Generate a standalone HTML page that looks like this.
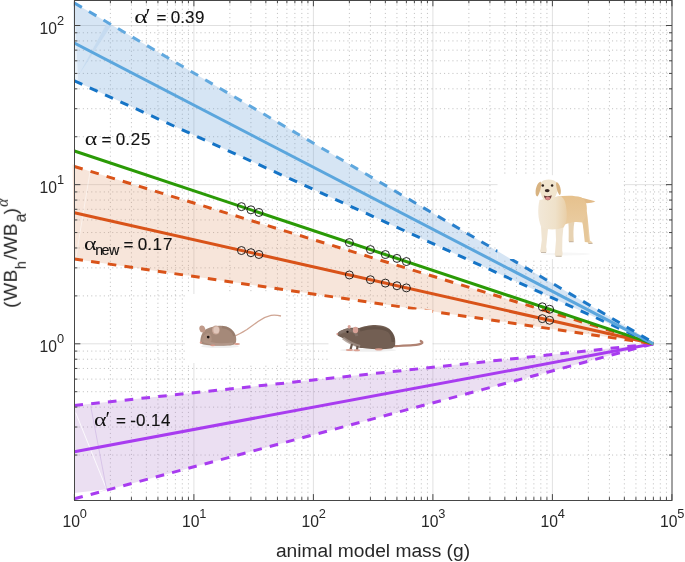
<!DOCTYPE html>
<html><head><meta charset="utf-8"><style>
html,body{margin:0;padding:0;background:#fff;width:685px;height:562px;overflow:hidden}
svg{display:block}

svg{font-family:"Liberation Sans",sans-serif}
</style></head><body>
<svg width="685" height="562" viewBox="0 0 685 562">
<defs>
<clipPath id="ax"><rect x="74.40" y="0.30" width="597.60" height="499.80"/></clipPath>
<linearGradient id="ubg" gradientUnits="userSpaceOnUse" x1="74" y1="0" x2="654" y2="0">
<stop offset="0" stop-color="#4f9ddb"/><stop offset="0.08" stop-color="#62a9df"/><stop offset="0.5" stop-color="#5fa8de"/><stop offset="0.64" stop-color="#2a80cc"/><stop offset="1" stop-color="#1574c6"/>
</linearGradient>
</defs>
<rect width="685" height="562" fill="#fff"/>

<path d="M110.37 0.30V500.10 M131.42 0.30V500.10 M146.35 0.30V500.10 M157.93 0.30V500.10 M167.39 0.30V500.10 M175.39 0.30V500.10 M182.32 0.30V500.10 M188.43 0.30V500.10 M229.87 0.30V500.10 M250.92 0.30V500.10 M265.85 0.30V500.10 M277.43 0.30V500.10 M286.89 0.30V500.10 M294.89 0.30V500.10 M301.82 0.30V500.10 M307.93 0.30V500.10 M349.37 0.30V500.10 M370.42 0.30V500.10 M385.35 0.30V500.10 M396.93 0.30V500.10 M406.39 0.30V500.10 M414.39 0.30V500.10 M421.32 0.30V500.10 M427.43 0.30V500.10 M468.87 0.30V500.10 M489.92 0.30V500.10 M504.85 0.30V500.10 M516.43 0.30V500.10 M525.89 0.30V500.10 M533.89 0.30V500.10 M540.82 0.30V500.10 M546.93 0.30V500.10 M588.37 0.30V500.10 M609.42 0.30V500.10 M624.35 0.30V500.10 M635.93 0.30V500.10 M645.39 0.30V500.10 M653.39 0.30V500.10 M660.32 0.30V500.10 M666.43 0.30V500.10" stroke="#000" stroke-opacity="0.24" stroke-width="1" stroke-dasharray="1.1 3.1" fill="none"/>
<path d="M74.40 455.04H672.00 M74.40 427.02H672.00 M74.40 407.13H672.00 M74.40 391.71H672.00 M74.40 379.11H672.00 M74.40 368.45H672.00 M74.40 359.22H672.00 M74.40 351.08H672.00 M74.40 295.89H672.00 M74.40 267.87H672.00 M74.40 247.98H672.00 M74.40 232.56H672.00 M74.40 219.96H672.00 M74.40 209.30H672.00 M74.40 200.07H672.00 M74.40 191.93H672.00 M74.40 136.74H672.00 M74.40 108.72H672.00 M74.40 88.83H672.00 M74.40 73.41H672.00 M74.40 60.81H672.00 M74.40 50.15H672.00 M74.40 40.92H672.00 M74.40 32.78H672.00" stroke="#000" stroke-opacity="0.24" stroke-width="1" stroke-dasharray="1.1 3.1" fill="none"/>
<path d="M193.90 0.30V500.10 M313.40 0.30V500.10 M432.90 0.30V500.10 M552.40 0.30V500.10 M74.40 343.80H672.00 M74.40 184.65H672.00 M74.40 25.50H672.00" stroke="#000" stroke-opacity="0.12" stroke-width="1" fill="none"/>
<g clip-path="url(#ax)">
<polygon points="74.40,3.00 653.39,342.60 653.39,343.80 74.40,80.86" fill="rgb(91,151,211)" fill-opacity="0.25"/>
<polygon points="74.40,166.45 653.39,343.80 74.40,258.98" fill="rgb(223,151,107)" fill-opacity="0.25"/>
<polygon points="74.40,405.49 653.39,343.80 74.40,498.79" fill="rgb(175,127,203)" fill-opacity="0.25"/>
</g>
<polygon points="73.4,2.5 74.6,2.5 74.6,80 73.9,80" fill="#d6e5f4"/>
<polygon points="72.6,164.5 74.6,164.5 74.6,258 74,258" fill="#f7e5da"/>
<polygon points="74.6,8 74.6,82 78.2,80" fill="#fff" fill-opacity="0.45"/>
<polygon points="78.9,74.8 107.3,22.3 111.6,24.9" fill="#c6dbf0"/>
<polygon points="74.5,493 106.6,489.3 74.5,501" fill="#fff"/>
<path d="M75.7 412.7 L106.6 489.3" stroke="#fff" stroke-width="0.9" stroke-opacity="0.9"/>
<path d="M90.7 406.2 L106.6 489.3" stroke="#d2bde6" stroke-width="0.8"/>
<path d="M90.5 168.8 L75.9 257.8" stroke="#fff" stroke-width="0.8" stroke-opacity="0.6"/>
<g clip-path="url(#ax)">
<line x1="74.40" y1="405.49" x2="653.39" y2="343.80" stroke="#a83cf0" stroke-width="3.0" stroke-dasharray="8.65 8.2"/>
<line x1="74.40" y1="498.79" x2="653.39" y2="343.80" stroke="#a83cf0" stroke-width="3.0" stroke-dasharray="8.65 8.2"/>
<line x1="74.40" y1="451.75" x2="653.39" y2="343.80" stroke="#a83cf0" stroke-width="3.0"/>
<line x1="74.40" y1="166.45" x2="653.39" y2="343.80" stroke="#d95319" stroke-width="3.0" stroke-dasharray="8.65 8.2"/>
<line x1="74.40" y1="258.98" x2="653.39" y2="343.80" stroke="#d95319" stroke-width="3.0" stroke-dasharray="8.65 8.2"/>
<line x1="74.40" y1="212.71" x2="653.39" y2="343.80" stroke="#d95319" stroke-width="3.0"/>
<line x1="74.40" y1="151.03" x2="653.39" y2="343.80" stroke="#2a9a06" stroke-width="3.0"/>
<line x1="74.40" y1="80.86" x2="653.39" y2="343.80" stroke="#1574c6" stroke-width="3.0" stroke-dasharray="8.65 8.2"/>
<line x1="74.40" y1="43.07" x2="653.39" y2="343.80" stroke="#5ba6dd" stroke-width="3.0"/>
<line x1="74.40" y1="3.00" x2="653.39" y2="342.60" stroke="url(#ubg)" stroke-width="3.0" stroke-dasharray="8.65 8.2"/>
</g>
<g fill="none" stroke="#111" stroke-width="0.9"><circle cx="241.45" cy="206.65" r="4"/><circle cx="241.45" cy="250.54" r="4"/><circle cx="250.92" cy="209.80" r="4"/><circle cx="250.92" cy="252.68" r="4"/><circle cx="258.92" cy="212.46" r="4"/><circle cx="258.92" cy="254.49" r="4"/><circle cx="349.37" cy="242.58" r="4"/><circle cx="349.37" cy="274.97" r="4"/><circle cx="370.42" cy="249.58" r="4"/><circle cx="370.42" cy="279.73" r="4"/><circle cx="385.35" cy="254.56" r="4"/><circle cx="385.35" cy="283.11" r="4"/><circle cx="396.93" cy="258.41" r="4"/><circle cx="396.93" cy="285.74" r="4"/><circle cx="406.39" cy="261.56" r="4"/><circle cx="406.39" cy="287.88" r="4"/><circle cx="542.29" cy="306.81" r="4"/><circle cx="542.29" cy="318.65" r="4"/><circle cx="549.63" cy="309.25" r="4"/><circle cx="549.63" cy="320.31" r="4"/></g>

<rect x="185" y="294" width="101" height="69" fill="#fff"/>
<ellipse cx="220" cy="346.3" rx="19" ry="1.8" fill="#efefef"/>
<path d="M235.5 335.8 C240 333.5 244 331.5 247 329.5 C251 326.5 254 324.5 258 321.5 C262 318.5 266 316.3 271 315.3 C275 314.8 278 315.2 281 316" stroke="#cfa593" stroke-width="1.3" fill="none"/>
<path d="M200.3 342.8 C200.2 339.5 200.8 336 202.5 333 C203.5 331 205 329.5 207 328.8 C210 327.3 213.5 326.3 217 325.9 C220.5 325.5 223.5 325.6 226.5 326.4 C230.5 327.6 233.5 330.5 235.3 334.5 C236.5 337.5 236.6 341 235.5 343.5 C234 345 231 345.5 228 345.6 C222 346 215 346 209 345.3 C206 345 203.5 344.6 202 344 C201 343.6 200.4 343.3 200.3 342.8Z" fill="#a58979"/>
<path d="M204 341 C209 343.5 220 345 233 343.5" stroke="#c0a69a" stroke-width="2" fill="none" opacity="0.5"/>
<path d="M222 327 C228 327.5 233 331 234.5 336" stroke="#8a6e60" stroke-width="2.5" fill="none" opacity="0.45"/>
<path d="M201.5 341 C202 337 204.5 334 208 333 C211 333.5 212 337 211.5 341 C210 344 205 344.5 201.5 341Z" fill="#b29585" opacity="0.8"/>
<ellipse cx="202.3" cy="329" rx="2.9" ry="3.6" transform="rotate(-15 202.3 329)" fill="#c09a8a"/>
<ellipse cx="215.9" cy="330" rx="3.9" ry="4.5" fill="#c9a797"/>
<ellipse cx="216.3" cy="330" rx="2.9" ry="3.6" fill="#e0c6ba"/>
<circle cx="208.2" cy="337.1" r="1.35" fill="#1b1210"/>
<circle cx="200.8" cy="342.6" r="1.1" fill="#db9a8c"/>
<ellipse cx="212.8" cy="345.3" rx="2.5" ry="0.9" fill="#d99b8c"/>
<ellipse cx="237" cy="344" rx="3" ry="1.1" fill="#d99b8c"/>


<rect x="328.5" y="309.5" width="104" height="54.5" fill="#fff"/>
<ellipse cx="368" cy="350.2" rx="28" ry="1.6" fill="#efefef"/>
<path d="M394 346.2 C400 345.9 407 345.6 413 345.2 C417 344.9 420.5 344.3 422.3 342.8 C422.6 341.8 421.5 341 419.8 340.9" stroke="#b08272" stroke-width="2.2" fill="none"/>
<path d="M337 334 C338.5 332 340 330.8 341.7 330.3 C344 329.2 346.5 328.3 349 328.1 C352 327.8 356 327.8 359.2 328.1 C362 327 364 326.4 366.5 326 C369.5 325.2 372.5 324.9 375.3 324.9 C379 325 382.5 325.7 385.5 326.7 C388.5 328 390.5 329.5 391.3 331 C393.5 333.5 394.6 336 395 338.4 C395.4 341 395.3 343.6 395 345.7 C394 347.2 392.8 348 391.3 348.6 C387 349.3 382.5 349.4 378.2 349.3 C374 349.2 370 348.9 366.5 348.6 C363.5 348.3 361.3 348.1 359.2 347.8 C356.5 346.5 354 345.3 351.9 344.2 C349 342.5 346.5 340.5 344.6 339.1 C342.5 338 340.5 337 338.8 336.2 C337.8 335.6 337.1 334.8 337 334Z" fill="#735f53"/>
<path d="M360 330 C370 327 382 327 389 331 C392 334 393 338 393 342" stroke="#5a483f" stroke-width="3" fill="none" opacity="0.55"/>
<path d="M343 338 C348 342 353 344.5 360 346.5" stroke="#a3938a" stroke-width="3" fill="none" opacity="0.75"/>
<path d="M339 333.5 C342 331.5 346 330.5 351 330.5 C354 331 356 333 357 336" stroke="#8a7a72" stroke-width="3" fill="none" opacity="0.6"/>
<path d="M352 344 L350.5 349.5 M357.5 346 L357 349.8" stroke="#6a574c" stroke-width="2.2"/>
<path d="M340 332.5 C343 330.5 347 329.5 351 329.5" stroke="#8a7870" stroke-width="2" fill="none" opacity="0.6"/>
<ellipse cx="349.2" cy="326.8" rx="1.6" ry="1.9" fill="#d9a297"/>
<ellipse cx="355.5" cy="330" rx="2.7" ry="3.3" fill="#d7a196"/>
<circle cx="347.5" cy="331.8" r="1.15" fill="#1a1110"/>
<circle cx="337.4" cy="334.1" r="1.05" fill="#d3968a"/>
<ellipse cx="349.5" cy="350" rx="3.6" ry="1" fill="#dba193"/>
<ellipse cx="356.7" cy="350.2" rx="3.3" ry="1" fill="#dba193"/>
<ellipse cx="378.8" cy="349.4" rx="3.8" ry="1.1" fill="#dba193"/>


<defs><linearGradient id="dchest" x1="0" y1="0" x2="1" y2="0"><stop offset="0" stop-color="#f2e8d8"/><stop offset="0.6" stop-color="#efe1c9"/><stop offset="1" stop-color="#e9cfa8"/></linearGradient>
<linearGradient id="dbody" x1="0" y1="0" x2="0" y2="1"><stop offset="0" stop-color="#e6c18d"/><stop offset="1" stop-color="#ecd3ae"/></linearGradient></defs>
<rect x="497.5" y="175.2" width="126.2" height="83.8" fill="#fff"/>
<ellipse cx="566" cy="254" rx="24" ry="1.4" fill="#f7f7f7"/>
<path d="M580 197.5 C585 198.2 590 199.8 595.4 201.6 C591 203.6 585 203.6 580.5 202.6Z" fill="#e2bb88"/>
<path d="M568.3 222 C568.8 228 568.8 234 568.6 240.5 C568.3 241.5 569.5 242 571 242 L573.8 241.8 C573.3 234 573.2 228 574.5 221.5Z" fill="#e7d2b2"/>
<path d="M556 197 C565 195.3 574 195.2 581 197.3 C585.5 199.3 587.3 204.5 586.8 211 C588.2 221 589 232 590 240.5 C591 241.5 592.8 242 592.6 243.5 L588.3 243.8 C586 238 584.3 230 582.5 222.5 C578 221.5 572 221.5 566 224 C562 226 559 227.5 556 227Z" fill="url(#dbody)"/>
<path d="M582.5 222.5 C583.5 229 584 235 584.8 242 L589.3 242.4 C588 235 587.3 226 587 214Z" fill="#e6c799"/>
<path d="M541 226 L541.8 240 L540.6 249.3 C539.6 251 540 252.8 542.3 252.8 L546.2 252.8 C547 251 546.7 249 546.2 247 L547.3 236 L548.3 226Z" fill="#f0e4d1"/>
<path d="M555.5 226 L556 240 L555 252.8 C554.2 255 555.3 256.7 557.8 256.7 L561.8 256.7 C563 254.5 562.6 252.5 562.2 250.5 L562.4 238 L563.5 226Z" fill="#f0e4d1"/>
<path d="M539.5 200 C537.5 208 537.8 219 541 226.5 C545 230 556 230.5 563.5 227.5 C566 224 568 218 566 206 C565 200 563 197 560 196Z" fill="url(#dchest)"/>
<path d="M541 194 C538 188 539.5 182 544 180.2 C547 179.2 551 179.3 554 180.5 C558.5 182.5 559.5 188 556.5 194 C555 198 552.5 201.3 548 201.6 C544 201.3 542 198 541 194Z" fill="#f1e5ce"/>
<path d="M540.5 181.5 C537.5 183 536 187 535.6 191 C535.4 194 536 196.5 537.4 196.5 C539 195 540.5 190 541.5 184Z" fill="#d8b381"/>
<path d="M556.5 182 C559 183 560.5 187 560.8 190.5 C561 193 560.5 195 559.5 195 C558 193.5 556.5 189 556 184Z" fill="#d8b381"/>
<circle cx="542.8" cy="185.6" r="1.25" fill="#2a1e18"/>
<circle cx="552.1" cy="185.6" r="1.25" fill="#2a1e18"/>
<ellipse cx="547.2" cy="190.6" rx="2.4" ry="1.7" fill="#3a2a26"/>
<path d="M543.8 195.4 C546 196.5 549 196.5 551.8 195.2 C551.2 198.5 549.5 200.3 547.8 200.3 C546 200.3 544.5 198.5 543.8 195.4Z" fill="#6b3a36"/>
<ellipse cx="547.8" cy="198.4" rx="2.6" ry="1.6" fill="#d98a8a"/>
<path d="M541 252.5 h5 M555.5 256.3 h6 M569 241.8 h4.5 M588.5 243.5 h4" stroke="#9a8877" stroke-width="0.7" opacity="0.7"/>

<clipPath id="dogclip"><rect x="497.5" y="175.2" width="126.2" height="83.8"/></clipPath>
<g clip-path="url(#dogclip)"><polygon points="74.40,3.00 653.39,342.60 653.39,343.80 74.40,80.86" fill="#d6e5f4"/></g>
<g opacity="0.995">
<text transform="translate(134.32 23.30) scale(1.305 1)" font-size="19.7" font-family="Liberation Serif" fill="#111">α</text>
<text x="145.87" y="23.30" font-size="21" font-family="Liberation Serif" fill="#111">′</text>
<text x="156.40 170.65 180.15 185.05 195.00" y="23.10" font-size="17" fill="#111" stroke="#111" stroke-width="0.15">=0.39</text>
<text transform="translate(84.80 145.20) scale(1.206 1)" font-size="19.7" font-family="Liberation Serif" fill="#111">α</text>
<text x="101.60 115.85 125.35 130.85 141.10" y="145.10" font-size="17" fill="#111" stroke="#111" stroke-width="0.15">=0.25</text>
<text transform="translate(84.09 249.90) scale(1.217 1)" font-size="19.7" font-family="Liberation Serif" fill="#111">α</text>
<text x="95.20 101.50 108.90" y="254.80" font-size="14.3" fill="#111" stroke="#111" stroke-width="0.15">new</text>
<text x="123.60 137.85 147.35 152.40 162.90" y="249.90" font-size="17" fill="#111" stroke="#111" stroke-width="0.15">=0.17</text>
<text transform="translate(94.09 425.90) scale(1.217 1)" font-size="19.7" font-family="Liberation Serif" fill="#111">α</text>
<text x="105.57" y="426.00" font-size="21" font-family="Liberation Serif" fill="#111">′</text>
<text x="116.10 130.25 135.90 145.85 151.00 161.10" y="425.50" font-size="17" fill="#111" stroke="#111" stroke-width="0.15">=-0.14</text>
<path d="M74.40 500.10v-6 M74.40 0.30v6 M193.90 500.10v-6 M193.90 0.30v6 M313.40 500.10v-6 M313.40 0.30v6 M432.90 500.10v-6 M432.90 0.30v6 M552.40 500.10v-6 M552.40 0.30v6 M671.90 500.10v-6 M671.90 0.30v6 M110.37 500.10v-3 M110.37 0.30v3 M131.42 500.10v-3 M131.42 0.30v3 M146.35 500.10v-3 M146.35 0.30v3 M157.93 500.10v-3 M157.93 0.30v3 M167.39 500.10v-3 M167.39 0.30v3 M175.39 500.10v-3 M175.39 0.30v3 M182.32 500.10v-3 M182.32 0.30v3 M188.43 500.10v-3 M188.43 0.30v3 M229.87 500.10v-3 M229.87 0.30v3 M250.92 500.10v-3 M250.92 0.30v3 M265.85 500.10v-3 M265.85 0.30v3 M277.43 500.10v-3 M277.43 0.30v3 M286.89 500.10v-3 M286.89 0.30v3 M294.89 500.10v-3 M294.89 0.30v3 M301.82 500.10v-3 M301.82 0.30v3 M307.93 500.10v-3 M307.93 0.30v3 M349.37 500.10v-3 M349.37 0.30v3 M370.42 500.10v-3 M370.42 0.30v3 M385.35 500.10v-3 M385.35 0.30v3 M396.93 500.10v-3 M396.93 0.30v3 M406.39 500.10v-3 M406.39 0.30v3 M414.39 500.10v-3 M414.39 0.30v3 M421.32 500.10v-3 M421.32 0.30v3 M427.43 500.10v-3 M427.43 0.30v3 M468.87 500.10v-3 M468.87 0.30v3 M489.92 500.10v-3 M489.92 0.30v3 M504.85 500.10v-3 M504.85 0.30v3 M516.43 500.10v-3 M516.43 0.30v3 M525.89 500.10v-3 M525.89 0.30v3 M533.89 500.10v-3 M533.89 0.30v3 M540.82 500.10v-3 M540.82 0.30v3 M546.93 500.10v-3 M546.93 0.30v3 M588.37 500.10v-3 M588.37 0.30v3 M609.42 500.10v-3 M609.42 0.30v3 M624.35 500.10v-3 M624.35 0.30v3 M635.93 500.10v-3 M635.93 0.30v3 M645.39 500.10v-3 M645.39 0.30v3 M653.39 500.10v-3 M653.39 0.30v3 M660.32 500.10v-3 M660.32 0.30v3 M666.43 500.10v-3 M666.43 0.30v3 M74.40 343.80h6 M672.00 343.80h-6 M74.40 184.65h6 M672.00 184.65h-6 M74.40 25.50h6 M672.00 25.50h-6 M74.40 455.04h3 M672.00 455.04h-3 M74.40 427.02h3 M672.00 427.02h-3 M74.40 407.13h3 M672.00 407.13h-3 M74.40 391.71h3 M672.00 391.71h-3 M74.40 379.11h3 M672.00 379.11h-3 M74.40 368.45h3 M672.00 368.45h-3 M74.40 359.22h3 M672.00 359.22h-3 M74.40 351.08h3 M672.00 351.08h-3 M74.40 295.89h3 M672.00 295.89h-3 M74.40 267.87h3 M672.00 267.87h-3 M74.40 247.98h3 M672.00 247.98h-3 M74.40 232.56h3 M672.00 232.56h-3 M74.40 219.96h3 M672.00 219.96h-3 M74.40 209.30h3 M672.00 209.30h-3 M74.40 200.07h3 M672.00 200.07h-3 M74.40 191.93h3 M672.00 191.93h-3 M74.40 136.74h3 M672.00 136.74h-3 M74.40 108.72h3 M672.00 108.72h-3 M74.40 88.83h3 M672.00 88.83h-3 M74.40 73.41h3 M672.00 73.41h-3 M74.40 60.81h3 M672.00 60.81h-3 M74.40 50.15h3 M672.00 50.15h-3 M74.40 40.92h3 M672.00 40.92h-3 M74.40 32.78h3 M672.00 32.78h-3" stroke="#454545" stroke-width="1" fill="none"/>
<rect x="74.5" y="0.5" width="597.50" height="500" fill="none" stroke="#454545" stroke-width="1"/>
<text x="74.70" y="526.7" font-size="15.7" fill="#262626" text-anchor="middle">10<tspan font-size="12.8" dy="-8.6">0</tspan></text>
<text x="194.20" y="526.7" font-size="15.7" fill="#262626" text-anchor="middle">10<tspan font-size="12.8" dy="-8.6">1</tspan></text>
<text x="313.70" y="526.7" font-size="15.7" fill="#262626" text-anchor="middle">10<tspan font-size="12.8" dy="-8.6">2</tspan></text>
<text x="433.20" y="526.7" font-size="15.7" fill="#262626" text-anchor="middle">10<tspan font-size="12.8" dy="-8.6">3</tspan></text>
<text x="552.70" y="526.7" font-size="15.7" fill="#262626" text-anchor="middle">10<tspan font-size="12.8" dy="-8.6">4</tspan></text>
<text x="672.20" y="526.7" font-size="15.7" fill="#262626" text-anchor="middle">10<tspan font-size="12.8" dy="-8.6">5</tspan></text>
<text x="64" y="351.90" font-size="15.7" fill="#262626" text-anchor="end">10<tspan font-size="12.8" dy="-8.6">0</tspan></text>
<text x="64" y="192.75" font-size="15.7" fill="#262626" text-anchor="end">10<tspan font-size="12.8" dy="-8.6">1</tspan></text>
<text x="64" y="33.60" font-size="15.7" fill="#262626" text-anchor="end">10<tspan font-size="12.8" dy="-8.6">2</tspan></text>
<text x="373" y="557" font-size="19.2" fill="#262626" text-anchor="middle">animal model mass (g)</text>
<text transform="translate(16.8 307.9) rotate(-90)" font-size="19.2" fill="#262626"><tspan x="0" y="0" letter-spacing="0.5">(WB</tspan><tspan x="38.8" y="9.4" font-size="14.5">h</tspan><tspan x="48.2" y="0">/WB</tspan><tspan x="85.5" y="9.4" font-size="16">a</tspan><tspan x="93.6" y="0">)</tspan><tspan x="101" y="-8.9" font-size="16" font-family="Liberation Serif" font-style="italic">α</tspan></text>
</g>
</svg>
</body></html>
